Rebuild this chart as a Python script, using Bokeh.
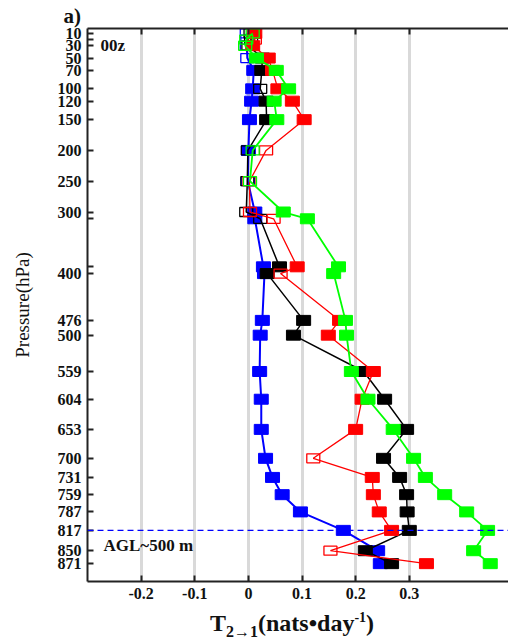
from bokeh.plotting import figure
from bokeh.models import Range1d, FixedTicker, Span, Label, LinearAxis, Div
from bokeh.layouts import column
from bokeh.embed import file_html
from bokeh.resources import INLINE

# ---------------- data ----------------
levels = [10, 20, 30, 50, 70, 100, 120, 150, 200, 250, 300, 311, 389, 400,
          476, 500, 559, 604, 653, 700, 731, 759, 787, 817, 850, 871]
level_labels = ["10", "", "30", "50", "70", "100", "120", "150", "200", "250", "300", "", "", "400",
                "476", "500", "559", "604", "653", "700", "731", "759", "787", "817", "850", "871"]

blue = [-0.003, -0.002, -0.003, -0.002, 0.010, 0.008, 0.006, 0.002, 0.000, -0.001, 0.012, 0.012, 0.028, 0.030,
        0.026, 0.022, 0.021, 0.024, 0.024, 0.032, 0.045, 0.063, 0.097, 0.177, 0.241, 0.246]
blue_open = [1, 1, 1, 1, 0, 0, 0, 0, 0, 1, 0, 0, 0, 0,
             0, 0, 0, 0, 0, 0, 0, 0, 0, 0, 0, 0]

black = [0.004, 0.005, 0.000, 0.026, 0.025, 0.022, 0.033, 0.034, -0.001, -0.002, -0.004, 0.022, 0.058, 0.035,
         0.103, 0.084, 0.215, 0.254, 0.295, 0.252, 0.282, 0.295, 0.296, 0.300, 0.218, 0.267]
black_open = [1, 1, 1, 0, 0, 1, 0, 0, 1, 1, 1, 1, 0, 0,
              0, 0, 0, 0, 0, 0, 0, 0, 0, 0, 0, 0]

red = [0.012, 0.012, 0.008, 0.037, 0.045, 0.055, 0.082, 0.104, 0.033, 0.002, 0.003, 0.047, 0.091, 0.060,
       0.170, 0.149, 0.233, 0.212, 0.200, 0.121, 0.231, 0.233, 0.244, 0.267, 0.153, 0.332]
red_open = [0, 1, 0, 0, 0, 0, 0, 0, 1, 1, 1, 1, 0, 1,
            0, 0, 0, 0, 0, 1, 0, 0, 0, 0, 1, 0]

green = [0.008, -0.004, -0.006, 0.015, 0.052, 0.075, 0.048, 0.053, 0.008, 0.003, 0.065, 0.110, 0.168, 0.159,
         0.181, 0.183, 0.192, 0.223, 0.270, 0.308, 0.330, 0.366, 0.407, 0.446, 0.420, 0.451]
green_open = [1, 1, 1, 0, 0, 0, 0, 0, 1, 1, 0, 0, 0, 0,
              0, 0, 0, 0, 0, 0, 0, 0, 0, 0, 0, 0]

x_ticks = [-0.2, -0.1, 0.0, 0.1, 0.2, 0.3]
x_tick_labels = ["-0.2", "-0.1", "0", "0.1", "0.2", "0.3"]
agl_level = 817

SERIF = "Liberation Serif"
AXC = "#222222"

# ---------------- main figure ----------------
p = figure(width=508, height=608, x_range=Range1d(-0.3, 0.485), y_range=Range1d(900, 2),
           output_backend="svg", toolbar_location=None)
p.min_border_left = 87
p.min_border_right = 0
p.min_border_top = 28
p.min_border_bottom = 27
p.outline_line_color = None

labeled = [l for l, t in zip(levels, level_labels) if t]
unlabeled = [l for l, t in zip(levels, level_labels) if not t]

xa = p.xaxis[0]
xa.ticker = FixedTicker(ticks=x_ticks)
xa.major_label_overrides = {t: l for t, l in zip(x_ticks, x_tick_labels)}
ya = p.yaxis[0]
ya.ticker = FixedTicker(ticks=labeled, minor_ticks=unlabeled)
for ax in (xa, ya):
    ax.axis_line_width = 2
    ax.axis_line_color = AXC
    ax.major_tick_in = 6
    ax.major_tick_out = 0
    ax.major_tick_line_width = 2
    ax.major_tick_line_color = AXC
    ax.major_label_text_font = SERIF
    ax.major_label_text_font_style = "bold"
    ax.major_label_text_font_size = "16px"
    ax.major_label_text_color = "#111111"
    ax.major_label_standoff = 6
xa.minor_tick_line_color = None
ya.minor_tick_in = 6
ya.minor_tick_out = 0
ya.minor_tick_line_width = 2
ya.minor_tick_line_color = AXC
ya.axis_label = "Pressure(hPa)"
ya.axis_label_text_font = SERIF
ya.axis_label_text_font_style = "normal"
ya.axis_label_text_font_size = "19px"
ya.axis_label_text_color = "#111111"
ya.axis_label_standoff = 22

top = LinearAxis(ticker=FixedTicker(ticks=[], minor_ticks=x_ticks), axis_line_width=2, axis_line_color=AXC,
                 major_tick_line_color=None, minor_tick_in=6, minor_tick_out=0, minor_tick_line_width=2,
                 minor_tick_line_color=AXC)
p.add_layout(top, "above")

p.title.text = "a)"
p.title.align = "left"
p.title.offset = -24
p.title.text_font = SERIF
p.title.text_font_style = "bold"
p.title.text_font_size = "21px"
p.title.text_color = "#111111"
p.title.standoff = 2

p.xgrid.ticker = FixedTicker(ticks=x_ticks)
p.xgrid.grid_line_color = "#d9d9d9"
p.xgrid.grid_line_width = 3
p.ygrid.grid_line_color = None

series = [(blue, blue_open, "#0000ff", 2.0),
          (black, black_open, "#000000", 1.5),
          (red, red_open, "#ff0000", 1.3),
          (green, green_open, "#00ff00", 1.8)]
for vals, opn, col, lw in series:
    p.line(vals, levels, line_color=col, line_width=lw)
    fx = [v for v, o in zip(vals, opn) if not o]
    fy = [l for l, o in zip(levels, opn) if not o]
    ox = [v for v, o in zip(vals, opn) if o]
    oy = [l for l, o in zip(levels, opn) if o]
    p.rect(fx, fy, width=14, height=10, width_units="screen", height_units="screen",
           fill_color=col, line_color=col, line_width=1)
    p.rect(ox, oy, width=13, height=9, width_units="screen", height_units="screen",
           fill_alpha=0, line_color=col, line_width=1.3)

p.add_layout(Span(location=agl_level, dimension="width", line_color="#0000ff",
                  line_dash="6 4", line_width=1.3))

def lab(x, y, t, size):
    p.add_layout(Label(x=x, y=y, text=t, text_font=SERIF, text_font_style="bold",
                       text_font_size=size, text_color="#111111", text_baseline="alphabetic",
                       text_align="left"))

lab(-0.2758, 29.6, "00z", "17px")
lab(-0.2702, 841.6, "AGL~500 m", "17px")

# ---------------- x-axis label (HTML, real text) ----------------
xlabel_html = ('<div style="margin-left:210px;margin-top:3px;font-family:\'Liberation Serif\';'
               'font-weight:bold;font-size:24px;line-height:24px;color:#111111;white-space:nowrap">'
               'T<sub style="font-size:16px;line-height:0">2\u21921</sub>(nats\u2022day'
               '<sup style="font-size:14px;line-height:0">-1</sup>)</div>')
xl = Div(text=xlabel_html, width=508, height=33, margin=(0, 0, 0, 0))

layout = column(p, xl, spacing=0)
open("out.html", "w").write(file_html(layout, INLINE))
